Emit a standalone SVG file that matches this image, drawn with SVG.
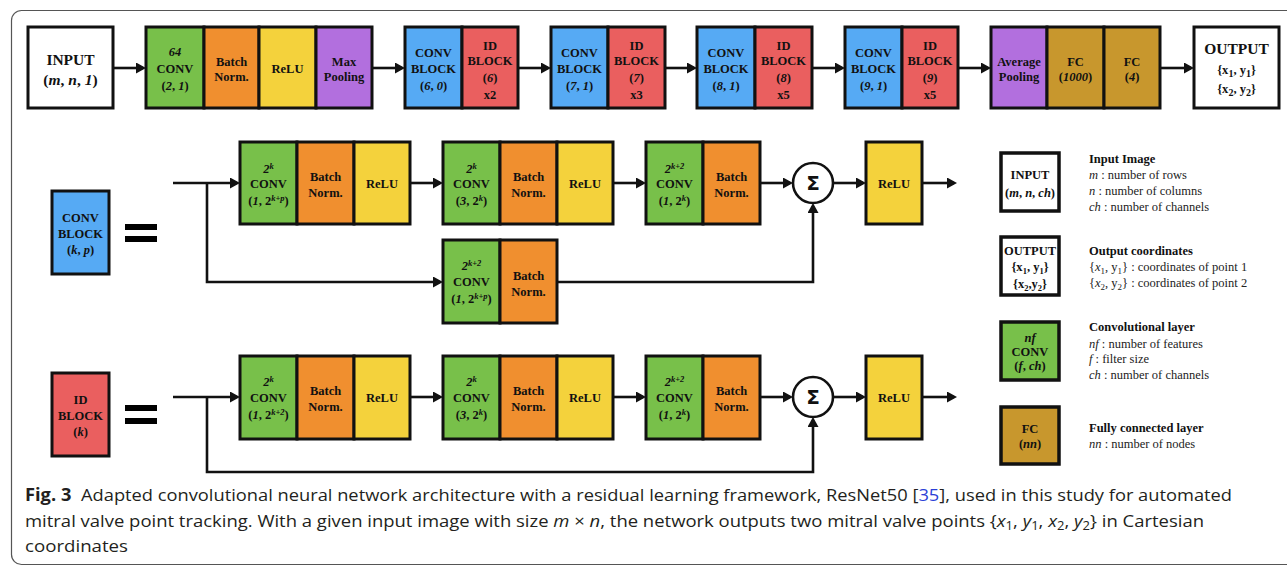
<svg xmlns="http://www.w3.org/2000/svg" width="1287" height="567" viewBox="0 0 1287 567">
  <style>
    .cell { stroke: #111; stroke-width: 3; }
    .lg { stroke: #111; stroke-width: 3.5; }
    .white { fill: #ffffff; }
    .green { fill: #78c04a; }
    .orange { fill: #f08f2f; }
    .yellow { fill: #f4d23c; }
    .purple { fill: #b26fde; }
    .blue { fill: #56aaf4; }
    .red { fill: #ea5f5f; }
    .gold { fill: #c8972d; }
    .t { font-family: "Liberation Serif", "Times New Roman", serif; font-weight: bold; font-size: 12.5px; text-anchor: middle; fill: #111; }
    .big { font-size: 15.5px; }
    .i { font-style: italic; }
    .sup { font-size: 8.5px; }
    .wire { fill: none; stroke: #111; stroke-width: 2.6; }
    .sum { fill: #ffffff; stroke: #111; stroke-width: 2.6; }
    .sig { font-family: "DejaVu Sans", sans-serif; font-weight: bold; font-size: 20px; text-anchor: middle; fill: #111; }
    .eq { fill: #000; }
    .lt { font-family: "Liberation Serif", "Times New Roman", serif; font-size: 12.5px; fill: #222; }
    .lth { font-weight: bold; fill: #111; }
    .cap { font-family: "Open Sans", "Noto Sans", sans-serif; font-size: 17px; fill: #231f20; }
    .ref { fill: #2b3fd6; }
  </style>
  <defs>
    <marker id="ah" viewBox="0 0 10 11" refX="7" refY="5.5" markerWidth="10" markerHeight="11" markerUnits="userSpaceOnUse" orient="auto">
      <path d="M0,0 L10,5.5 L0,11 Z" fill="#111"/>
    </marker>
  </defs>

  <!-- figure frame -->
  <rect x="11.5" y="10.5" width="1300" height="554" rx="10" ry="10" fill="none" stroke="#555" stroke-width="1.2"/>

  <!-- ===== top row: full network ===== -->
  <g id="input">
    <rect class="cell white" x="28" y="27" width="85" height="81"/>
    <text class="t big" x="70.5" y="64.5">INPUT</text>
    <text class="t big" x="70.5" y="85">(<tspan class="i">m</tspan>, <tspan class="i">n</tspan>, <tspan class="i">1</tspan>)</text>
  </g>

  <g id="stem">
    <rect class="cell green" x="146" y="27" width="58" height="81"/>
    <rect class="cell orange" x="204" y="27" width="55" height="81"/>
    <rect class="cell yellow" x="259" y="27" width="57" height="81"/>
    <rect class="cell purple" x="316" y="27" width="56" height="81"/>
    <text class="t i" x="175" y="56">64</text>
    <text class="t" x="175" y="72.8">CONV</text>
    <text class="t" x="175" y="89.5">(<tspan class="i">2</tspan>, <tspan class="i">1</tspan>)</text>
    <text class="t" x="231.5" y="65.5">Batch</text>
    <text class="t" x="231.5" y="81">Norm.</text>
    <text class="t" x="287.5" y="72.8">ReLU</text>
    <text class="t" x="344" y="65.5">Max</text>
    <text class="t" x="344" y="81">Pooling</text>
  </g>

  <g id="stage6">
    <rect class="cell blue" x="405" y="27" width="57" height="81"/>
    <rect class="cell red" x="462" y="27" width="56" height="81"/>
    <text class="t" x="433.5" y="57.2">CONV</text>
    <text class="t" x="433.5" y="72.8">BLOCK</text>
    <text class="t" x="433.5" y="89.5">(<tspan class="i">6</tspan>, <tspan class="i">0</tspan>)</text>
    <text class="t" x="490" y="49.5">ID</text>
    <text class="t" x="490" y="65.2">BLOCK</text>
    <text class="t" x="490" y="81.8">(<tspan class="i">6</tspan>)</text>
    <text class="t" x="490" y="98.5">x2</text>
  </g>

  <g id="stage7">
    <rect class="cell blue" x="551" y="27" width="57" height="81"/>
    <rect class="cell red" x="608" y="27" width="57" height="81"/>
    <text class="t" x="579.5" y="57.2">CONV</text>
    <text class="t" x="579.5" y="72.8">BLOCK</text>
    <text class="t" x="579.5" y="89.5">(<tspan class="i">7</tspan>, <tspan class="i">1</tspan>)</text>
    <text class="t" x="636.5" y="49.5">ID</text>
    <text class="t" x="636.5" y="65.2">BLOCK</text>
    <text class="t" x="636.5" y="81.8">(<tspan class="i">7</tspan>)</text>
    <text class="t" x="636.5" y="98.5">x3</text>
  </g>

  <g id="stage8">
    <rect class="cell blue" x="697" y="27" width="58" height="81"/>
    <rect class="cell red" x="755" y="27" width="57" height="81"/>
    <text class="t" x="726" y="57.2">CONV</text>
    <text class="t" x="726" y="72.8">BLOCK</text>
    <text class="t" x="726" y="89.5">(<tspan class="i">8</tspan>, <tspan class="i">1</tspan>)</text>
    <text class="t" x="783.5" y="49.5">ID</text>
    <text class="t" x="783.5" y="65.2">BLOCK</text>
    <text class="t" x="783.5" y="81.8">(<tspan class="i">8</tspan>)</text>
    <text class="t" x="783.5" y="98.5">x5</text>
  </g>

  <g id="stage9">
    <rect class="cell blue" x="845" y="27" width="57" height="81"/>
    <rect class="cell red" x="902" y="27" width="56" height="81"/>
    <text class="t" x="873.5" y="57.2">CONV</text>
    <text class="t" x="873.5" y="72.8">BLOCK</text>
    <text class="t" x="873.5" y="89.5">(<tspan class="i">9</tspan>, <tspan class="i">1</tspan>)</text>
    <text class="t" x="930" y="49.5">ID</text>
    <text class="t" x="930" y="65.2">BLOCK</text>
    <text class="t" x="930" y="81.8">(<tspan class="i">9</tspan>)</text>
    <text class="t" x="930" y="98.5">x5</text>
  </g>

  <g id="head">
    <rect class="cell purple" x="991" y="27" width="56" height="81"/>
    <rect class="cell gold" x="1047" y="27" width="57" height="81"/>
    <rect class="cell gold" x="1104" y="27" width="56" height="81"/>
    <text class="t" x="1019" y="65.5">Average</text>
    <text class="t" x="1019" y="81">Pooling</text>
    <text class="t" x="1075.5" y="65.5">FC</text>
    <text class="t" x="1075.5" y="81">(<tspan class="i">1000</tspan>)</text>
    <text class="t" x="1132" y="65.5">FC</text>
    <text class="t" x="1132" y="81">(<tspan class="i">4</tspan>)</text>
  </g>

  <g id="output">
    <rect class="cell white" x="1194" y="27" width="85" height="81"/>
    <text class="t big" x="1236.5" y="53.5">OUTPUT</text>
    <text class="t" x="1236.5" y="74" font-size="14">{x<tspan dy="3" font-size="10">1</tspan><tspan dy="-3">, y</tspan><tspan dy="3" font-size="10">1</tspan><tspan dy="-3">}</tspan></text>
    <text class="t" x="1236.5" y="92.5" font-size="14">{x<tspan dy="3" font-size="10">2</tspan><tspan dy="-3">, y</tspan><tspan dy="3" font-size="10">2</tspan><tspan dy="-3">}</tspan></text>
  </g>

  <!-- ===== CONV BLOCK definition ===== -->
  <g id="convblock-key">
    <rect class="cell blue" x="52" y="191" width="57" height="83"/>
    <text class="t" x="80.5" y="221.5" font-size="12">CONV</text>
    <text class="t" x="80.5" y="238" font-size="12">BLOCK</text>
    <text class="t" x="80.5" y="253.5" font-size="12">(<tspan class="i">k</tspan>, <tspan class="i">p</tspan>)</text>
  </g>
  <g id="convblock-eq">
    <rect class="eq" x="125" y="224" width="32" height="6"/>
    <rect class="eq" x="125" y="236" width="32" height="6"/>
  </g>

  <g id="cb-conv1">
    <rect class="cell green" x="240" y="142" width="57" height="82"/>
    <text class="t" x="268.5" y="172.5"><tspan class="i">2</tspan><tspan class="sup i" dy="-4">k</tspan></text>
    <text class="t" x="268.5" y="187.8">CONV</text>
    <text class="t" x="268.5" y="204.5" font-size="12">(<tspan class="i">1</tspan>, 2<tspan class="sup i" dy="-4">k+p</tspan><tspan dy="4">)</tspan></text>
  </g>
  <g id="cb-bn1">
    <rect class="cell orange" x="297" y="142" width="57" height="82"/>
    <text class="t" x="325.5" y="181">Batch</text>
    <text class="t" x="325.5" y="196.8">Norm.</text>
  </g>
  <g id="cb-relu1">
    <rect class="cell yellow" x="354" y="142" width="56" height="82"/>
    <text class="t" x="382" y="187.8">ReLU</text>
  </g>
  <g id="cb-conv2">
    <rect class="cell green" x="443" y="142" width="57" height="82"/>
    <text class="t" x="471.5" y="172.5"><tspan class="i">2</tspan><tspan class="sup i" dy="-4">k</tspan></text>
    <text class="t" x="471.5" y="187.8">CONV</text>
    <text class="t" x="471.5" y="204.5" font-size="12">(<tspan class="i">3</tspan>, 2<tspan class="sup i" dy="-4">k</tspan><tspan dy="4">)</tspan></text>
  </g>
  <g id="cb-bn2">
    <rect class="cell orange" x="500" y="142" width="57" height="82"/>
    <text class="t" x="528.5" y="181">Batch</text>
    <text class="t" x="528.5" y="196.8">Norm.</text>
  </g>
  <g id="cb-relu2">
    <rect class="cell yellow" x="557" y="142" width="56" height="82"/>
    <text class="t" x="585" y="187.8">ReLU</text>
  </g>
  <g id="cb-conv3">
    <rect class="cell green" x="646" y="142" width="57" height="82"/>
    <text class="t" x="674.5" y="172.5"><tspan class="i">2</tspan><tspan class="sup i" dy="-4">k+2</tspan></text>
    <text class="t" x="674.5" y="187.8">CONV</text>
    <text class="t" x="674.5" y="204.5" font-size="12">(<tspan class="i">1</tspan>, 2<tspan class="sup i" dy="-4">k</tspan><tspan dy="4">)</tspan></text>
  </g>
  <g id="cb-bn3">
    <rect class="cell orange" x="703" y="142" width="57" height="82"/>
    <text class="t" x="731.5" y="181">Batch</text>
    <text class="t" x="731.5" y="196.8">Norm.</text>
  </g>
  <g id="cb-sum">
    <circle class="sum" cx="813" cy="183" r="20"/>
    <text class="sig" x="813" y="190">Σ</text>
  </g>
  <g id="cb-relu3">
    <rect class="cell yellow" x="866" y="142" width="56" height="82"/>
    <text class="t" x="894" y="187.8">ReLU</text>
  </g>
  <g id="cb-proj-conv">
    <rect class="cell green" x="443" y="240" width="57" height="83"/>
    <text class="t" x="471.5" y="269.5"><tspan class="i">2</tspan><tspan class="sup i" dy="-4">k+2</tspan></text>
    <text class="t" x="471.5" y="286">CONV</text>
    <text class="t" x="471.5" y="302.5" font-size="12">(<tspan class="i">1</tspan>, 2<tspan class="sup i" dy="-4">k+p</tspan><tspan dy="4">)</tspan></text>
  </g>
  <g id="cb-proj-bn">
    <rect class="cell orange" x="500" y="240" width="57" height="83"/>
    <text class="t" x="528.5" y="279.5">Batch</text>
    <text class="t" x="528.5" y="295.5">Norm.</text>
  </g>

  <!-- ===== ID BLOCK definition ===== -->
  <g id="idblock-key">
    <rect class="cell red" x="52" y="373" width="57" height="83"/>
    <text class="t" x="80.5" y="404" font-size="12">ID</text>
    <text class="t" x="80.5" y="420" font-size="12">BLOCK</text>
    <text class="t" x="80.5" y="435.5" font-size="12">(<tspan class="i">k</tspan>)</text>
  </g>
  <g id="idblock-eq">
    <rect class="eq" x="125" y="405" width="32" height="6"/>
    <rect class="eq" x="125" y="418" width="32" height="6"/>
  </g>

  <g id="ib-conv1">
    <rect class="cell green" x="240" y="356" width="57" height="83"/>
    <text class="t" x="268.5" y="386"><tspan class="i">2</tspan><tspan class="sup i" dy="-4">k</tspan></text>
    <text class="t" x="268.5" y="401.8">CONV</text>
    <text class="t" x="268.5" y="418.5" font-size="12">(<tspan class="i">1</tspan>, 2<tspan class="sup i" dy="-4">k+2</tspan><tspan dy="4">)</tspan></text>
  </g>
  <g id="ib-bn1">
    <rect class="cell orange" x="297" y="356" width="57" height="83"/>
    <text class="t" x="325.5" y="395.2">Batch</text>
    <text class="t" x="325.5" y="410.5">Norm.</text>
  </g>
  <g id="ib-relu1">
    <rect class="cell yellow" x="354" y="356" width="56" height="83"/>
    <text class="t" x="382" y="401.8">ReLU</text>
  </g>
  <g id="ib-conv2">
    <rect class="cell green" x="443" y="356" width="57" height="83"/>
    <text class="t" x="471.5" y="386"><tspan class="i">2</tspan><tspan class="sup i" dy="-4">k</tspan></text>
    <text class="t" x="471.5" y="401.8">CONV</text>
    <text class="t" x="471.5" y="418.5" font-size="12">(<tspan class="i">3</tspan>, 2<tspan class="sup i" dy="-4">k</tspan><tspan dy="4">)</tspan></text>
  </g>
  <g id="ib-bn2">
    <rect class="cell orange" x="500" y="356" width="57" height="83"/>
    <text class="t" x="528.5" y="395.2">Batch</text>
    <text class="t" x="528.5" y="410.5">Norm.</text>
  </g>
  <g id="ib-relu2">
    <rect class="cell yellow" x="557" y="356" width="56" height="83"/>
    <text class="t" x="585" y="401.8">ReLU</text>
  </g>
  <g id="ib-conv3">
    <rect class="cell green" x="646" y="356" width="57" height="83"/>
    <text class="t" x="674.5" y="386"><tspan class="i">2</tspan><tspan class="sup i" dy="-4">k+2</tspan></text>
    <text class="t" x="674.5" y="401.8">CONV</text>
    <text class="t" x="674.5" y="418.5" font-size="12">(<tspan class="i">1</tspan>, 2<tspan class="sup i" dy="-4">k</tspan><tspan dy="4">)</tspan></text>
  </g>
  <g id="ib-bn3">
    <rect class="cell orange" x="703" y="356" width="57" height="83"/>
    <text class="t" x="731.5" y="395.2">Batch</text>
    <text class="t" x="731.5" y="410.5">Norm.</text>
  </g>
  <g id="ib-sum">
    <circle class="sum" cx="813" cy="397" r="20"/>
    <text class="sig" x="813" y="404">Σ</text>
  </g>
  <g id="ib-relu3">
    <rect class="cell yellow" x="866" y="356" width="56" height="83"/>
    <text class="t" x="894" y="401.8">ReLU</text>
  </g>

  <!-- ===== connectors ===== -->
  <g id="connectors" class="wire" marker-end="url(#ah)">
    <!-- top row -->
    <path d="M113,68 H143"/>
    <path d="M372,68 H402"/>
    <path d="M518,68 H548"/>
    <path d="M665,68 H694"/>
    <path d="M812,68 H842"/>
    <path d="M958,68 H988"/>
    <path d="M1160,68 H1191"/>
    <!-- conv block -->
    <path d="M173,183 H237"/>
    <path d="M410,183 H440"/>
    <path d="M613,183 H643"/>
    <path d="M760,183 H790"/>
    <path d="M833,183 H863"/>
    <path d="M922,183 H954"/>
    <path d="M207,183 V282 H440"/>
    <path d="M557,282 H813 V206"/>
    <!-- identity block -->
    <path d="M173,397 H237"/>
    <path d="M410,397 H440"/>
    <path d="M613,397 H643"/>
    <path d="M760,397 H790"/>
    <path d="M833,397 H863"/>
    <path d="M922,397 H954"/>
    <path d="M207,397 V472 H813 V420"/>
  </g>

  <!-- ===== legend ===== -->
  <g id="legend-input">
    <rect class="lg white" x="1001" y="153" width="58" height="58"/>
    <text class="t" x="1030" y="179" font-size="11.5">INPUT</text>
    <text class="t" x="1030" y="196.5" font-size="11.5">(<tspan class="i">m</tspan>, <tspan class="i">n</tspan>, <tspan class="i">ch</tspan>)</text>
    <text class="lt lth" x="1089" y="163">Input Image</text>
    <text class="lt" x="1089" y="179"><tspan class="i">m</tspan> : number of rows</text>
    <text class="lt" x="1089" y="195"><tspan class="i">n</tspan> : number of columns</text>
    <text class="lt" x="1089" y="210.5"><tspan class="i">ch</tspan> : number of channels</text>
  </g>
  <g id="legend-output">
    <rect class="lg white" x="1001" y="237" width="58" height="58"/>
    <text class="t" x="1030" y="255" font-size="11.5">OUTPUT</text>
    <text class="t" x="1030" y="271" font-size="11.5">{x<tspan dy="2.5" font-size="8.5">1</tspan><tspan dy="-2.5">, y</tspan><tspan dy="2.5" font-size="8.5">1</tspan><tspan dy="-2.5">}</tspan></text>
    <text class="t" x="1030" y="288" font-size="11.5">{x<tspan dy="2.5" font-size="8.5">2</tspan><tspan dy="-2.5">,y</tspan><tspan dy="2.5" font-size="8.5">2</tspan><tspan dy="-2.5">}</tspan></text>
    <text class="lt lth" x="1089" y="255">Output coordinates</text>
    <text class="lt" x="1089" y="271">{<tspan class="i">x</tspan><tspan dy="2.5" font-size="9">1</tspan><tspan dy="-2.5">, y</tspan><tspan dy="2.5" font-size="9">1</tspan><tspan dy="-2.5">} : coordinates of point 1</tspan></text>
    <text class="lt" x="1089" y="287">{<tspan class="i">x</tspan><tspan dy="2.5" font-size="9">2</tspan><tspan dy="-2.5">, y</tspan><tspan dy="2.5" font-size="9">2</tspan><tspan dy="-2.5">} : coordinates of point 2</tspan></text>
  </g>
  <g id="legend-conv">
    <rect class="lg green" x="1001" y="322" width="58" height="58"/>
    <text class="t i" x="1030" y="342" font-size="11.5">nf</text>
    <text class="t" x="1030" y="356" font-size="11.5">CONV</text>
    <text class="t" x="1030" y="369.5" font-size="11.5">(<tspan class="i">f</tspan>, <tspan class="i">ch</tspan>)</text>
    <text class="lt lth" x="1089" y="331">Convolutional layer</text>
    <text class="lt" x="1089" y="348"><tspan class="i">nf</tspan> : number of features</text>
    <text class="lt" x="1089" y="363"><tspan class="i">f</tspan> : filter size</text>
    <text class="lt" x="1089" y="379"><tspan class="i">ch</tspan> : number of channels</text>
  </g>
  <g id="legend-fc">
    <rect class="lg gold" x="1001" y="407" width="58" height="57"/>
    <text class="t" x="1030" y="432.5" font-size="11.5">FC</text>
    <text class="t" x="1030" y="447.5" font-size="11.5">(<tspan class="i">nn</tspan>)</text>
    <text class="lt lth" x="1089" y="432">Fully connected layer</text>
    <text class="lt" x="1089" y="448"><tspan class="i">nn</tspan> : number of nodes</text>
  </g>

  <!-- ===== caption ===== -->
  <g id="caption">
    <text class="cap" x="25" y="501" textLength="1207" lengthAdjust="spacingAndGlyphs"><tspan font-weight="bold">Fig. 3</tspan><tspan dx="9">Adapted convolutional neural network architecture with a residual learning framework, ResNet50 [</tspan><tspan class="ref">35</tspan>], used in this study for automated</text>
    <text class="cap" x="25" y="527" textLength="1179" lengthAdjust="spacingAndGlyphs">mitral valve point tracking. With a given input image with size <tspan font-style="italic">m</tspan> × <tspan font-style="italic">n</tspan>, the network outputs two mitral valve points {<tspan font-style="italic">x</tspan><tspan font-size="12" dy="3">1</tspan><tspan dy="-3">, </tspan><tspan font-style="italic">y</tspan><tspan font-size="12" dy="3">1</tspan><tspan dy="-3">, </tspan><tspan font-style="italic">x</tspan><tspan font-size="12" dy="3">2</tspan><tspan dy="-3">, </tspan><tspan font-style="italic">y</tspan><tspan font-size="12" dy="3">2</tspan><tspan dy="-3">} in Cartesian</tspan></text>
    <text class="cap" x="25" y="552" textLength="103" lengthAdjust="spacingAndGlyphs">coordinates</text>
  </g>
</svg>
